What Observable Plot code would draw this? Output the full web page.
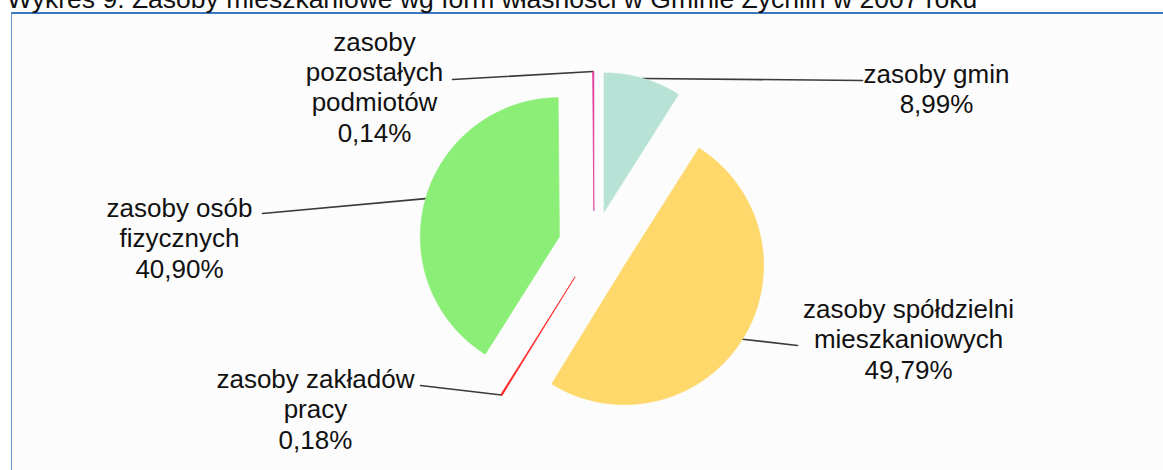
<!DOCTYPE html>
<html><head><meta charset="utf-8">
<script src="https://cdn.jsdelivr.net/npm/d3@7"></script>
<script src="https://cdn.jsdelivr.net/npm/@observablehq/plot@0.6"></script>
<style>
html,body{margin:0;padding:0;overflow:hidden;background:#fff;width:1163px;height:470px;}
#title{position:absolute;left:7px;top:-14px;font-family:"Liberation Sans",Arial,sans-serif;font-size:26.5px;line-height:26.5px;color:#111;white-space:nowrap;z-index:3}
#frame{position:absolute;left:11px;top:12px;width:1200px;height:500px;border-top:2px solid #3b76c0;border-left:1.5px solid #6b98d0;background:#fcfcfc;z-index:1}
#chart{position:absolute;left:0;top:0;z-index:2}
</style></head><body>
<div id="title">Wykres 9. Zasoby mieszkaniowe wg form własności w Gminie Żychlin w 2007 roku</div>
<div id="frame"></div>
<div id="chart"></div>
<script>
// ---- data ----
const categories = ["zasoby gmin", "zasoby spółdzielni mieszkaniowych", "zasoby zakładów pracy", "zasoby osób fizycznych", "zasoby pozostałych podmiotów"];
const shares = [8.99, 49.79, 0.18, 40.90, 0.14];
const labelLines = [["zasoby gmin"], ["zasoby spółdzielni", "mieszkaniowych"], ["zasoby zakładów", "pracy"], ["zasoby osób", "fizycznych"], ["zasoby", "pozostałych", "podmiotów"]];

// ---- style / layout ----
const colors = ["#b8e2d5", "#fed86a", "#ff2020", "#8bee76", "#e0369a"];
const labelAnchor = [[2.464, 1.140], [2.263, -0.662], [-2.004, -1.165], [-2.982, 0.065], [-1.579, 1.151]];
const leaderStart = [[1.932, 1.194], [1.464, -0.712], [-1.248, -1.0], [-2.385, 0.237], [-1.018, 1.201]];
const EXPLODE = 0.259;
const R = 139, CX = 593.5, CY = 246;

const fmt = v => v.toFixed(2).replace(".", ",") + "%";
const arcs = d3.pie().sort(null).value(d => d)(shares);

const slices = arcs.map((a, i) => {
  const m = (a.startAngle + a.endAngle) / 2;
  const cx = EXPLODE * Math.sin(m), cy = EXPLODE * Math.cos(m);
  const pts = [{x: cx, y: cy}];
  const n = Math.max(2, Math.ceil((a.endAngle - a.startAngle) / (Math.PI / 360)));
  for (let k = 0; k <= n; k++) {
    const t = a.startAngle + (a.endAngle - a.startAngle) * k / n;
    pts.push({x: cx + Math.sin(t), y: cy + Math.cos(t)});
  }
  pts.push({x: cx, y: cy});
  return {pts, outer: {x: cx + Math.sin(m), y: cy + Math.cos(m)}};
});

const leaderPts = [];
slices.forEach((s, i) => {
  leaderPts.push({i, x: leaderStart[i][0], y: leaderStart[i][1]});
  leaderPts.push({i, x: s.outer.x, y: s.outer.y});
});

const labels = categories.map((c, i) => ({
  x: labelAnchor[i][0], y: labelAnchor[i][1],
  text: [...labelLines[i], fmt(shares[i])].join("\n")
}));

const chart = Plot.plot({
  width: 1163, height: 470, margin: 0,
  x: {domain: [-1, 1], range: [CX - R, CX + R], axis: null},
  y: {domain: [-1, 1], range: [CY + R, CY - R], axis: null},
  style: {background: "transparent", overflow: "visible", maxWidth: "none"},
  marks: [
    Plot.line(leaderPts, {x: "x", y: "y", z: "i", stroke: "#3a3a3a", strokeWidth: 1.6}),
    ...slices.map((s, i) => Plot.line(s.pts, {x: "x", y: "y", fill: colors[i], stroke: colors[i], strokeWidth: 0.7, strokeLinejoin: "round"})),
    Plot.text(labels, {
      x: "x", y: "y", text: "text", fontSize: 26, lineHeight: 1.17,
      fontFamily: "'Liberation Sans', Arial, sans-serif", fill: "#111",
      textAnchor: "middle", lineAnchor: "middle"
    })
  ]
});
document.getElementById("chart").appendChild(chart);
</script>
</body></html>
